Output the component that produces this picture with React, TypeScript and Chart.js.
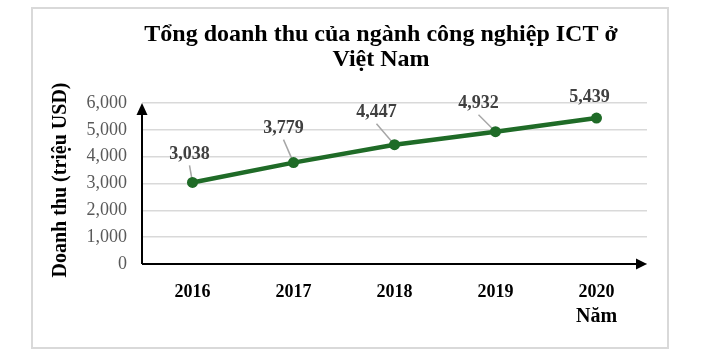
import React, { useEffect, useRef } from 'react';
import { Chart, registerables } from 'chart.js';

Chart.register(...registerables);

const years = ['2016', '2017', '2018', '2019', '2020'];
const revenue = [3038, 3779, 4447, 4932, 5439];
const yMin = 0;
const yMax = 6000;
const yStep = 1000;
const titleLines = ['Tổng doanh thu của ngành công nghiệp ICT ở', 'Việt Nam'];
const yTitle = 'Doanh thu (triệu USD)';
const xTitle = 'Năm';

const SERIF = "'Liberation Serif', 'Times New Roman', serif";
const LINE_COLOR = '#1f6b27';
// label placement (style only): offset of each data label from its point
const LABEL_OFFSETS: [number, number][] = [[-3, -28], [-10, -34], [-18, -32], [-17, -28], [-7, -21]];
const SHOW_LEADER = [true, true, true, true, false];

const fmt = (v: number) => Number(v).toLocaleString('en-US');

const decor = {
  id: 'decor',
  beforeDraw(chart: any) {
    const ctx = chart.ctx;
    ctx.save();
    ctx.fillStyle = '#ffffff';
    ctx.fillRect(0, 0, chart.width, chart.height);
    ctx.strokeStyle = '#d9d9d9';
    ctx.lineWidth = 2;
    ctx.strokeRect(32, 8, 636, 340);
    // title
    ctx.fillStyle = '#000';
    ctx.font = `bold 24px ${SERIF}`;
    ctx.textAlign = 'center';
    ctx.textBaseline = 'alphabetic';
    ctx.fillText(titleLines[0], 381, 41);
    ctx.fillText(titleLines[1], 381, 66);
    // axis titles
    ctx.font = `bold 20px ${SERIF}`;
    ctx.fillText(xTitle, 596.5, 322);
    ctx.save();
    ctx.translate(61, 180);
    ctx.rotate(-Math.PI / 2);
    ctx.textBaseline = 'middle';
    ctx.fillText(yTitle, 0, 0);
    ctx.restore();
    ctx.restore();
  },
  beforeDatasetsDraw(chart: any) {
    const ctx = chart.ctx;
    const area = chart.chartArea;
    ctx.save();
    // axes with arrows
    ctx.strokeStyle = '#000';
    ctx.fillStyle = '#000';
    ctx.lineWidth = 2;
    ctx.beginPath();
    ctx.moveTo(area.left, area.bottom);
    ctx.lineTo(area.left, area.top + 11);
    ctx.moveTo(area.left, area.bottom);
    ctx.lineTo(area.right - 10, area.bottom);
    ctx.stroke();
    ctx.beginPath();
    ctx.moveTo(area.left, area.top);
    ctx.lineTo(area.left - 5.5, area.top + 12);
    ctx.lineTo(area.left + 5.5, area.top + 12);
    ctx.closePath();
    ctx.fill();
    ctx.beginPath();
    ctx.moveTo(area.right, area.bottom);
    ctx.lineTo(area.right - 11, area.bottom - 5.5);
    ctx.lineTo(area.right - 11, area.bottom + 5.5);
    ctx.closePath();
    ctx.fill();
    // leader lines
    const meta = chart.getDatasetMeta(0);
    ctx.strokeStyle = '#a6a6a6';
    ctx.lineWidth = 1.5;
    meta.data.forEach((pt: any, i: number) => {
      if (!SHOW_LEADER[i]) return;
      const lx = pt.x + LABEL_OFFSETS[i][0];
      const ly = pt.y + LABEL_OFFSETS[i][1];
      ctx.beginPath();
      ctx.moveTo(lx, ly + 11);
      ctx.lineTo(pt.x, pt.y);
      ctx.stroke();
    });
    ctx.restore();
  },
  afterDatasetsDraw(chart: any) {
    const ctx = chart.ctx;
    const meta = chart.getDatasetMeta(0);
    ctx.save();
    ctx.font = `bold 18px ${SERIF}`;
    ctx.fillStyle = '#404040';
    ctx.textAlign = 'center';
    ctx.textBaseline = 'middle';
    meta.data.forEach((pt: any, i: number) => {
      ctx.fillText(fmt(revenue[i]), pt.x + LABEL_OFFSETS[i][0], pt.y + LABEL_OFFSETS[i][1]);
    });
    ctx.restore();
  },
};

export default function App() {
  const ref = useRef<HTMLCanvasElement>(null);
  useEffect(() => {
    if (!ref.current) return;
    const chart = new Chart(ref.current, {
      type: 'line',
      data: {
        labels: years,
        datasets: [
          {
            data: revenue,
            borderColor: LINE_COLOR,
            backgroundColor: LINE_COLOR,
            borderWidth: 4.5,
            pointRadius: 5.5,
            pointBorderWidth: 0,
            pointBackgroundColor: LINE_COLOR,
            tension: 0,
            fill: false,
          },
        ],
      },
      options: {
        responsive: false,
        animation: false,
        devicePixelRatio: 1,
        layout: { padding: { top: 103, right: 57, left: 0, bottom: 0 } },
        plugins: { legend: { display: false }, title: { display: false }, tooltip: { enabled: false } },
        scales: {
          x: {
            type: 'category',
            offset: true,
            grid: { display: false },
            border: { display: false },
            ticks: { color: '#000', padding: 10, font: { family: SERIF, size: 18, weight: 'bold' } },
            afterFit: (s: any) => { s.height = 88; },
          },
          y: {
            min: yMin,
            max: yMax,
            grid: { color: '#d9d9d9', lineWidth: 1.5, drawTicks: false },
            border: { display: false },
            ticks: {
              stepSize: yStep,
              color: '#595959',
              padding: 15,
              font: { family: SERIF, size: 18 },
              callback: (v: any) => fmt(v),
            },
            afterFit: (s: any) => { s.width = 142; },
          },
        },
      } as any,
      plugins: [decor],
    });
    return () => chart.destroy();
  }, []);
  return (
    <div style={{ position: 'absolute', left: 0, top: 0, width: 704, height: 352 }}>
      <canvas ref={ref} width={704} height={352} style={{ width: 704, height: 352 }} />
    </div>
  );
}
